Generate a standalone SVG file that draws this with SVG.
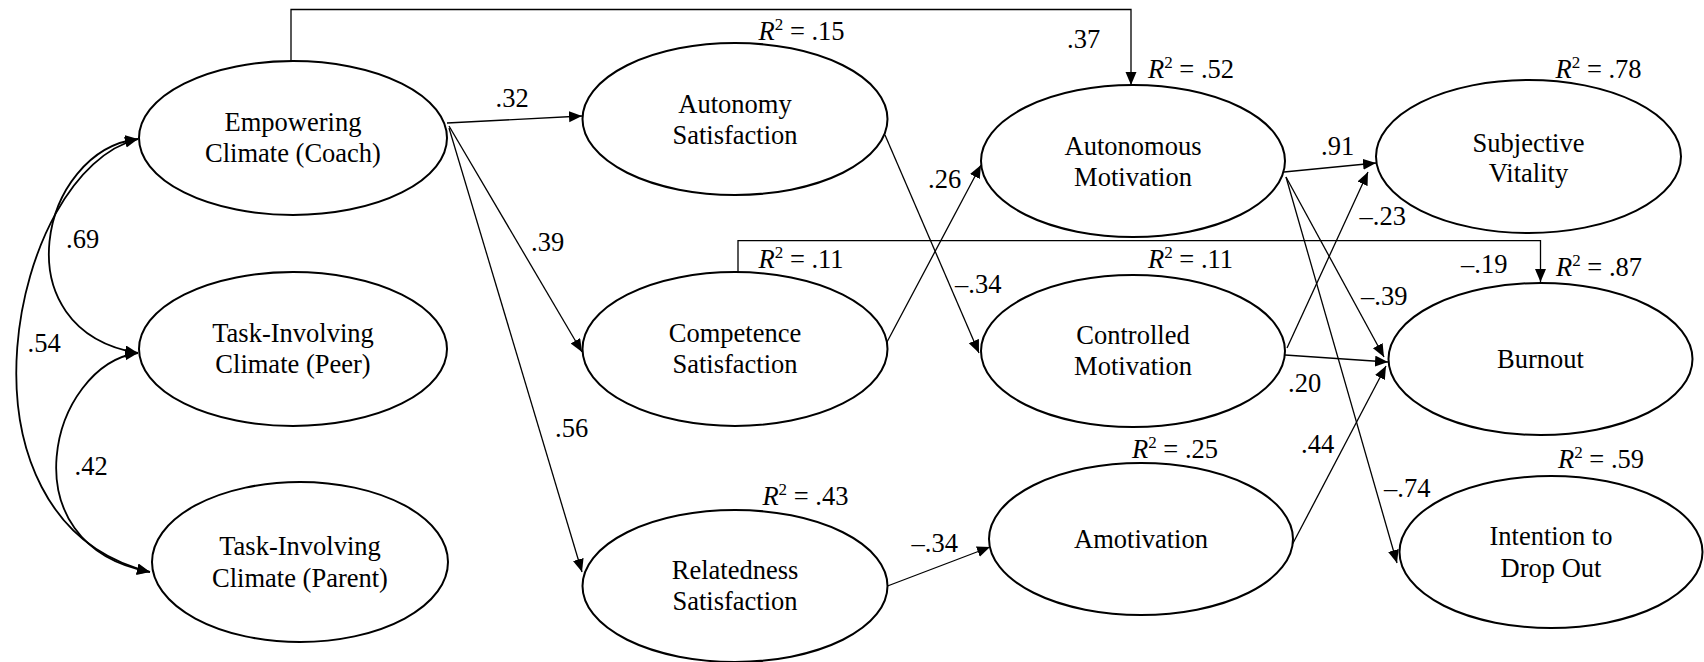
<svg xmlns="http://www.w3.org/2000/svg" width="1704" height="662" viewBox="0 0 1704 662" font-family="Liberation Serif" font-size="26.5">
<defs>
<marker id="ah" markerUnits="userSpaceOnUse" markerWidth="14" markerHeight="12" refX="13" refY="5.5" orient="auto"><path d="M0,0 L13,5.5 L0,11 z" fill="#000" stroke="none"/></marker>
<marker id="ahs" markerUnits="userSpaceOnUse" markerWidth="14" markerHeight="12" refX="13" refY="5.5" orient="auto-start-reverse"><path d="M0,0 L13,5.5 L0,11 z" fill="#000" stroke="none"/></marker>
</defs>
<g id="connectors" stroke="#000" fill="none">
<g stroke-width="1.3" marker-end="url(#ah)">
<polyline points="291,61 291,9.5 1131,9.5 1131,85"/>
<line x1="447" y1="123" x2="582" y2="116"/>
<line x1="449" y1="126" x2="582" y2="352"/>
<line x1="449" y1="128" x2="582" y2="572"/>
<line x1="885" y1="135" x2="979" y2="353"/>
<line x1="887" y1="342" x2="981" y2="165"/>
<polyline points="738,272 738,240.7 1540.5,240.7 1540.5,282"/>
<line x1="887.5" y1="586" x2="990" y2="547"/>
<line x1="1284" y1="172" x2="1376" y2="163"/>
<line x1="1286" y1="177" x2="1384" y2="357"/>
<line x1="1286" y1="177" x2="1397" y2="563"/>
<line x1="1287" y1="348" x2="1368" y2="172"/>
<line x1="1285" y1="355" x2="1388" y2="362"/>
<line x1="1291" y1="547" x2="1386" y2="366"/>
</g>
<g stroke-width="1.8" marker-start="url(#ahs)" marker-end="url(#ahs)">
<path d="M138,139 C40,150 0,330 138,353"/>
<path d="M138,139 C10,170 -60,520 150,572"/>
<path d="M138,353 C50,365 5,545 150,572"/>
</g>
</g>
<g id="labels" fill="#000">
<text x="495.6" y="107">.32</text>
<text x="1067" y="48.3">.37</text>
<text x="531" y="250.7">.39</text>
<text x="555" y="436.7">.56</text>
<text x="928" y="188.3">.26</text>
<text x="955" y="293.3">–.34</text>
<text x="911.6" y="551.7">–.34</text>
<text x="1321" y="155">.91</text>
<text x="1359.5" y="225">–.23</text>
<text x="1461" y="272.7">–.19</text>
<text x="1361" y="305">–.39</text>
<text x="1288" y="391.7">.20</text>
<text x="1301" y="453">.44</text>
<text x="1384" y="496.7">–.74</text>
<text x="66" y="248">.69</text>
<text x="27.5" y="351.7">.54</text>
<text x="74.6" y="475">.42</text>
<text x="758.6" y="40"><tspan font-style="italic">R</tspan><tspan font-size="17" dy="-10">2</tspan><tspan dy="10"> = .15</tspan></text>
<text x="758.6" y="267.7"><tspan font-style="italic">R</tspan><tspan font-size="17" dy="-10">2</tspan><tspan dy="10"> = .11</tspan></text>
<text x="762.4" y="505"><tspan font-style="italic">R</tspan><tspan font-size="17" dy="-10">2</tspan><tspan dy="10"> = .43</tspan></text>
<text x="1148" y="78.3"><tspan font-style="italic">R</tspan><tspan font-size="17" dy="-10">2</tspan><tspan dy="10"> = .52</tspan></text>
<text x="1148" y="268"><tspan font-style="italic">R</tspan><tspan font-size="17" dy="-10">2</tspan><tspan dy="10"> = .11</tspan></text>
<text x="1132" y="458"><tspan font-style="italic">R</tspan><tspan font-size="17" dy="-10">2</tspan><tspan dy="10"> = .25</tspan></text>
<text x="1555.6" y="78.3"><tspan font-style="italic">R</tspan><tspan font-size="17" dy="-10">2</tspan><tspan dy="10"> = .78</tspan></text>
<text x="1556" y="276"><tspan font-style="italic">R</tspan><tspan font-size="17" dy="-10">2</tspan><tspan dy="10"> = .87</tspan></text>
<text x="1558" y="468"><tspan font-style="italic">R</tspan><tspan font-size="17" dy="-10">2</tspan><tspan dy="10"> = .59</tspan></text>
</g>
<g id="nodes" text-anchor="middle">
<g id="empowering">
<ellipse cx="293" cy="138" rx="154" ry="77" fill="#fff" stroke="#000" stroke-width="2"/>
<text x="293" y="131">Empowering</text>
<text x="293" y="162">Climate (Coach)</text>
</g>
<g id="peer">
<ellipse cx="293" cy="349" rx="154" ry="77" fill="#fff" stroke="#000" stroke-width="2"/>
<text x="293" y="342">Task-Involving</text>
<text x="293" y="373">Climate (Peer)</text>
</g>
<g id="parent">
<ellipse cx="300" cy="562" rx="148" ry="80" fill="#fff" stroke="#000" stroke-width="2"/>
<text x="300" y="555">Task-Involving</text>
<text x="300" y="586.5">Climate (Parent)</text>
</g>
<g id="autonomy">
<ellipse cx="735" cy="119" rx="152.5" ry="76" fill="#fff" stroke="#000" stroke-width="2"/>
<text x="735" y="113">Autonomy</text>
<text x="735" y="144">Satisfaction</text>
</g>
<g id="competence">
<ellipse cx="735" cy="349" rx="152.5" ry="77" fill="#fff" stroke="#000" stroke-width="2"/>
<text x="735" y="342">Competence</text>
<text x="735" y="373">Satisfaction</text>
</g>
<g id="relatedness">
<ellipse cx="735" cy="586" rx="152.5" ry="76" fill="#fff" stroke="#000" stroke-width="2"/>
<text x="735" y="578.5">Relatedness</text>
<text x="735" y="610">Satisfaction</text>
</g>
<g id="autonomous">
<ellipse cx="1133" cy="161" rx="152" ry="76" fill="#fff" stroke="#000" stroke-width="2"/>
<text x="1133" y="155">Autonomous</text>
<text x="1133" y="186">Motivation</text>
</g>
<g id="controlled">
<ellipse cx="1133" cy="351" rx="152" ry="76" fill="#fff" stroke="#000" stroke-width="2"/>
<text x="1133" y="343.5">Controlled</text>
<text x="1133" y="375">Motivation</text>
</g>
<g id="amotivation">
<ellipse cx="1141" cy="539" rx="152" ry="76" fill="#fff" stroke="#000" stroke-width="2"/>
<text x="1141" y="548">Amotivation</text>
</g>
<g id="vitality">
<ellipse cx="1528.5" cy="156.5" rx="152.5" ry="76.5" fill="#fff" stroke="#000" stroke-width="2"/>
<text x="1528.5" y="151.5">Subjective</text>
<text x="1528.5" y="181.5">Vitality</text>
</g>
<g id="burnout">
<ellipse cx="1540.5" cy="359" rx="152" ry="76" fill="#fff" stroke="#000" stroke-width="2"/>
<text x="1540.5" y="368">Burnout</text>
</g>
<g id="dropout">
<ellipse cx="1551" cy="552" rx="151.5" ry="76" fill="#fff" stroke="#000" stroke-width="2"/>
<text x="1551" y="545">Intention to</text>
<text x="1551" y="576.5">Drop Out</text>
</g>
</g>
</svg>
